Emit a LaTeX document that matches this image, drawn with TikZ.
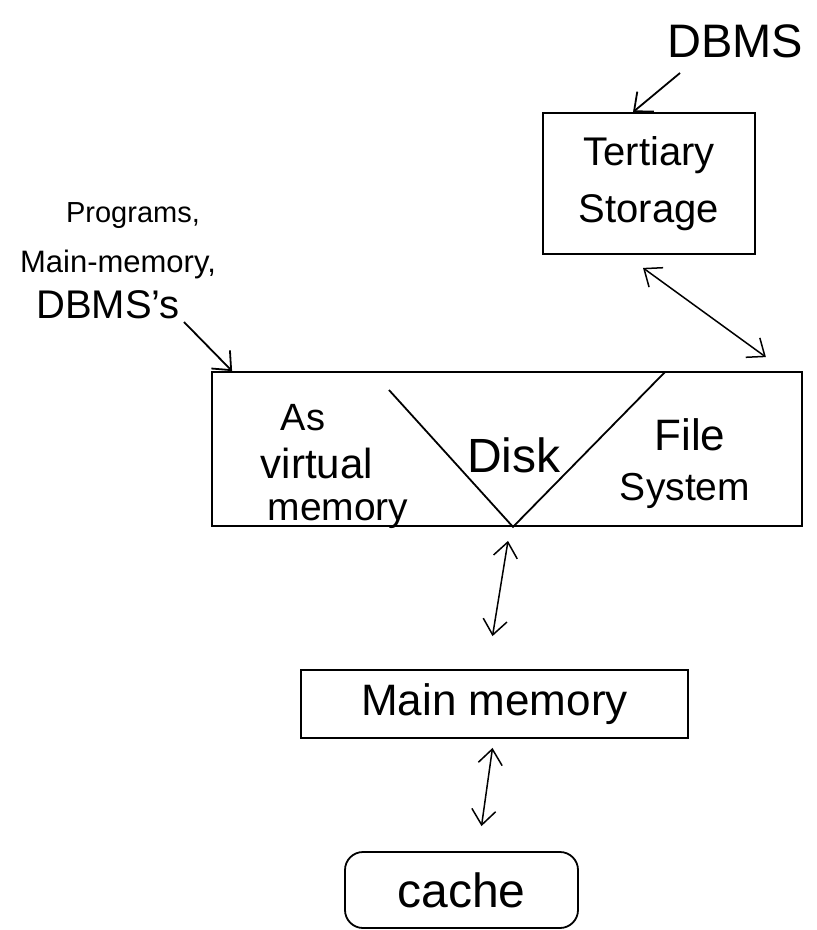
\documentclass[tikz,border=0pt]{standalone}
\usepackage{fontspec}
\setmainfont{Liberation Sans}
\usetikzlibrary{arrows.meta,calc}
\begin{document}
\begin{tikzpicture}[x=1pt,y=-1pt,
  box/.style={draw,line width=1.8pt,inner sep=0pt},
  onehead/.style={line width=1.8pt,-{Straight Barb[length=15pt,width=26pt]}},
  twohead/.style={line width=1.5pt,{Straight Barb[length=15pt,width=24pt]}-{Straight Barb[length=15pt,width=24pt]}},
  lbl/.style={anchor=base,inner sep=0pt}]
\useasboundingbox (0,0) rectangle (817,930);

% boxes
\node[box,minimum width=212pt,minimum height=141pt,align=center,
      font=\fontsize{40}{57}\selectfont] (tert) at (649,183.5) {Tertiary\\Storage};
\node[box,minimum width=590pt,minimum height=154pt] (disk) at (507,449) {};
\node[box,minimum width=387pt,minimum height=68pt,
      font=\fontsize{44}{50}\selectfont] (mm) at (494.5,704) {Main memory};
\node[box,rounded corners=18pt,minimum width=233pt,minimum height=76pt,
      font=\fontsize{48}{54}\selectfont] (cache) at (461.5,890) {cache};

% V inside the disk box
\coordinate (vl) at (389,390);
\coordinate (vb) at ([xshift=6pt]disk.south);
\coordinate (vr) at (665,372);
\draw[line width=1.8pt] (vl) -- (vb) -- (vr);

% texts
\node[lbl,font=\fontsize{47}{52}\selectfont] (dbmstop) at (735,57) {DBMS};
\node[lbl,font=\fontsize{29}{34}\selectfont] (prog) at (133,222) {Programs,};
\node[lbl,font=\fontsize{31}{36}\selectfont] (mainm) at (118,272) {Main-memory,};
\node[lbl,font=\fontsize{40}{46}\selectfont] (dbmss) at (108,318) {DBMS's};
\node[lbl,font=\fontsize{38}{44}\selectfont] (as) at (303,430) {As};
\node[lbl,font=\fontsize{42}{48}\selectfont] (virt) at (317,478) {virtual};
\node[lbl,font=\fontsize{39}{44}\selectfont] (mem) at (338,520) {memory};
\node[lbl,font=\fontsize{48}{52}\selectfont] (disklbl) at (514,472) {Disk};
\node[lbl,font=\fontsize{44}{48}\selectfont] (file) at (690,450) {File};
\node[lbl,font=\fontsize{39}{44}\selectfont] (sys) at (685,500) {System};

% connectors
\coordinate (p1) at (184,322);
\draw[onehead] (p1) -- ([xshift=21pt]disk.north west);
\coordinate (d1) at (680,73);
\draw[onehead] (d1) -- ([xshift=-16pt]tert.north);
\draw[twohead] ([shift={(-6,13)}]tert.south) -- ([shift={(-37,-14)}]disk.north east);
\draw[twohead] ([shift={(1,14)}]disk.south) -- ([shift={(-2,-33)}]mm.north);
\draw[twohead] ([shift={(-2,9)}]mm.south) -- ([shift={(20,-25)}]cache.north);
\end{tikzpicture}
\end{document}
